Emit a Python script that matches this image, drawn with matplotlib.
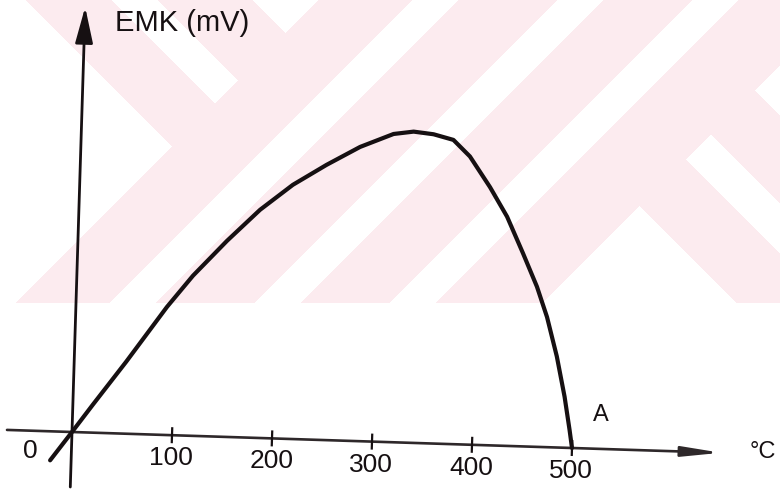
import numpy as np
import matplotlib
matplotlib.use("Agg")
import matplotlib.pyplot as plt
from matplotlib.transforms import Affine2D
from matplotlib.patches import FancyArrowPatch

# curve (temperature in degC, EMK in arbitrary mV units)
temps = [-21, 0, 20, 52, 91, 116, 149, 181, 213, 246, 279, 312, 332, 352,
         372, 389, 410, 428, 445, 460, 471, 482, 491, 497, 500]
emk = [-29, 0, 28, 72, 128, 160, 196, 228, 254, 275, 294, 308, 311, 309,
       304, 288, 258, 229, 193, 160, 130, 91, 51, 18, 0]

tick_vals = [100, 200, 300, 400, 500]
tick_labels = ["100", "200", "300", "400", "500"]

FONT = ["Liberation Sans", "DejaVu Sans"]
INK = "#161012"

W, H = 780, 491
fig = plt.figure(figsize=(W / 100, H / 100), dpi=100)

# faint pink watermark stripes behind the sketch (transparent elsewhere)
yy, xx = np.mgrid[0:H, 0:W]
u = xx + yy
v = xx - yy
white = (((u < 318) & (v < 26))
         | ((u < 318) & (v >= 112) & (v < 158))
         | ((u < 318) & (v >= 253))
         | ((u >= 412) & (u < 458))
         | ((u >= 557) & (u < 603))
         | ((u >= 692) & (u < 738))
         | ((u >= 845) & (v < 434))
         | ((u >= 845) & (v >= 527) & (v < 577))
         | ((u >= 845) & (v >= 665)))
pink = (~white) & (yy < 303)
bg = np.zeros((H, W, 4))
bg[pink] = np.array([252, 235, 239, 255]) / 255
fig.figimage(bg, 0, 0, origin="upper", zorder=0)

ax = fig.add_axes([0, 0, 1, 1])
ax.set_zorder(2)
ax.set_xlim(-72, W - 72)
ax.set_ylim(-(H - 432), 432)
ax.axis("off")
ax.patch.set_visible(False)

# the hand-drawn axes lean a bit, so shear everything slightly
trans = Affine2D(np.array([[1, 0.031, 0], [-0.032, 1, 0], [0, 0, 1]])) + ax.transData

yaxis = FancyArrowPatch((0, -55), (0, 425), transform=trans,
                        arrowstyle="-|>,head_length=1.1,head_width=0.27",
                        mutation_scale=20, lw=2.0, color=INK,
                        shrinkA=0, shrinkB=0)
ax.add_patch(yaxis)
xaxis = FancyArrowPatch((-65, 0), (649, 0), transform=trans,
                        arrowstyle="-|>,head_length=1.15,head_width=0.15",
                        mutation_scale=20, lw=1.9, color="#2e282a",
                        shrinkA=0, shrinkB=0)
ax.add_patch(xaxis)

ax.vlines(tick_vals, -8, 8, transform=trans, colors=INK, lw=1.6)

ax.plot(temps, emk, transform=trans, color=INK, lw=3.0,
        solid_joinstyle="round", solid_capstyle="round")

for t, lab in zip(tick_vals, tick_labels):
    ax.text(t, -23, lab, transform=trans, ha="center", va="center",
            fontsize=19, family=FONT, color=INK)
ax.text(-41, -20, "0", transform=trans, ha="center", va="center",
        fontsize=19, family=FONT, color=INK)
ax.text(528, 34, "A", transform=trans, ha="center", va="center",
        fontsize=17, family=FONT, color=INK)
ax.text(30, 410, "EMK (mV)", transform=trans, ha="left", va="center",
        fontsize=21, family=FONT, color=INK)
ax.text(704, 3, "°C", transform=trans, ha="right", va="center",
        fontsize=17, family=FONT, color=INK)

fig.savefig("out.png", dpi=100)
